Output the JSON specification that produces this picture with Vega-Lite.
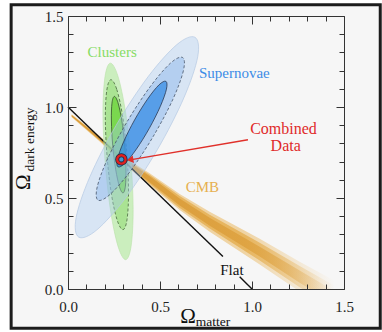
{
"$schema": "https://vega.github.io/schema/vega-lite/v6.json",
"width": 276, "height": 273,
"autosize": {"type": "none"},
"padding": {"left": 68, "top": 16, "right": 38, "bottom": 43},
"background": "#ffffff",
"datasets": {
 "frame": [{"x": -0.309, "x2": 1.697, "y": 1.562, "y2": -0.215}],
 "flat": [{"x": 0, "y": 1, "x2": 0.842, "y2": 0.179}, {"x": 0.933, "y": 0.067, "x2": 1, "y2": 0}],
 "cmb": [
  {"band":"faint","i":0,"x":0.020,"y":0.960},{"band":"faint","i":1,"x":0.172,"y":0.842},{"band":"faint","i":2,"x":0.297,"y":0.729},{"band":"faint","i":3,"x":0.444,"y":0.636},{"band":"faint","i":4,"x":0.607,"y":0.522},{"band":"faint","i":5,"x":0.770,"y":0.425},{"band":"faint","i":6,"x":1.042,"y":0.276},{"band":"faint","i":7,"x":1.259,"y":0.150},{"band":"faint","i":8,"x":1.449,"y":0.045},{"band":"faint","i":9,"x":1.449,"y":-0.141},{"band":"faint","i":10,"x":1.259,"y":-0.014},{"band":"faint","i":11,"x":1.042,"y":0.134},{"band":"faint","i":12,"x":0.770,"y":0.315},{"band":"faint","i":13,"x":0.607,"y":0.434},{"band":"faint","i":14,"x":0.444,"y":0.570},{"band":"faint","i":15,"x":0.297,"y":0.691},{"band":"faint","i":16,"x":0.172,"y":0.810},{"band":"faint","i":17,"x":0.020,"y":0.944},
  {"band":"mid","i":0,"x":0.020,"y":0.9575},{"band":"mid","i":1,"x":0.172,"y":0.837},{"band":"mid","i":2,"x":0.297,"y":0.724},{"band":"mid","i":3,"x":0.444,"y":0.628},{"band":"mid","i":4,"x":0.607,"y":0.511},{"band":"mid","i":5,"x":0.770,"y":0.408},{"band":"mid","i":6,"x":1.042,"y":0.254},{"band":"mid","i":7,"x":1.259,"y":0.126},{"band":"mid","i":8,"x":1.449,"y":0.018},{"band":"mid","i":9,"x":1.449,"y":-0.114},{"band":"mid","i":10,"x":1.259,"y":0.010},{"band":"mid","i":11,"x":1.042,"y":0.156},{"band":"mid","i":12,"x":0.770,"y":0.332},{"band":"mid","i":13,"x":0.607,"y":0.445},{"band":"mid","i":14,"x":0.444,"y":0.578},{"band":"mid","i":15,"x":0.297,"y":0.696},{"band":"mid","i":16,"x":0.172,"y":0.815},{"band":"mid","i":17,"x":0.020,"y":0.9465},
  {"band":"core","i":0,"x":0.020,"y":0.955},{"band":"core","i":1,"x":0.172,"y":0.833},{"band":"core","i":2,"x":0.297,"y":0.718},{"band":"core","i":3,"x":0.444,"y":0.619},{"band":"core","i":4,"x":0.607,"y":0.497},{"band":"core","i":5,"x":0.770,"y":0.392},{"band":"core","i":6,"x":1.042,"y":0.232},{"band":"core","i":7,"x":1.259,"y":0.101},{"band":"core","i":8,"x":1.449,"y":-0.012},{"band":"core","i":9,"x":1.449,"y":-0.084},{"band":"core","i":10,"x":1.259,"y":0.035},{"band":"core","i":11,"x":1.042,"y":0.178},{"band":"core","i":12,"x":0.770,"y":0.348},{"band":"core","i":13,"x":0.607,"y":0.459},{"band":"core","i":14,"x":0.444,"y":0.587},{"band":"core","i":15,"x":0.297,"y":0.702},{"band":"core","i":16,"x":0.172,"y":0.819},{"band":"core","i":17,"x":0.020,"y":0.949}
 ],
 "shapes": [
  {"shape":"sn1","i":0,"x":0.690,"y":1.383},{"shape":"sn1","i":1,"x":0.705,"y":1.276},{"shape":"sn1","i":2,"x":0.630,"y":1.051},{"shape":"sn1","i":3,"x":0.487,"y":0.768},{"shape":"sn1","i":4,"x":0.314,"y":0.502},{"shape":"sn1","i":5,"x":0.157,"y":0.325},{"shape":"sn1","i":6,"x":0.0585,"y":0.285},{"shape":"sn1","i":7,"x":0.044,"y":0.392},{"shape":"sn1","i":8,"x":0.119,"y":0.617},{"shape":"sn1","i":9,"x":0.262,"y":0.900},{"shape":"sn1","i":10,"x":0.435,"y":1.166},{"shape":"sn1","i":11,"x":0.592,"y":1.343},
  {"shape":"sn2","i":0,"x":0.623,"y":1.272},{"shape":"sn2","i":1,"x":0.627,"y":1.199},{"shape":"sn2","i":2,"x":0.569,"y":1.040},{"shape":"sn2","i":3,"x":0.463,"y":0.838},{"shape":"sn2","i":4,"x":0.339,"y":0.648},{"shape":"sn2","i":5,"x":0.229,"y":0.520},{"shape":"sn2","i":6,"x":0.163,"y":0.488},{"shape":"sn2","i":7,"x":0.159,"y":0.562},{"shape":"sn2","i":8,"x":0.217,"y":0.720},{"shape":"sn2","i":9,"x":0.323,"y":0.922},{"shape":"sn2","i":10,"x":0.447,"y":1.112},{"shape":"sn2","i":11,"x":0.557,"y":1.241},
  {"shape":"sn3","i":0,"x":0.532,"y":1.141},{"shape":"sn3","i":1,"x":0.535,"y":1.098},{"shape":"sn3","i":2,"x":0.502,"y":1.004},{"shape":"sn3","i":3,"x":0.442,"y":0.883},{"shape":"sn3","i":4,"x":0.372,"y":0.769},{"shape":"sn3","i":5,"x":0.310,"y":0.691},{"shape":"sn3","i":6,"x":0.272,"y":0.671},{"shape":"sn3","i":7,"x":0.269,"y":0.714},{"shape":"sn3","i":8,"x":0.302,"y":0.808},{"shape":"sn3","i":9,"x":0.362,"y":0.929},{"shape":"sn3","i":10,"x":0.432,"y":1.043},{"shape":"sn3","i":11,"x":0.494,"y":1.121},
  {"shape":"cl1","i":0,"x":0.230,"y":1.241},{"shape":"cl1","i":1,"x":0.271,"y":1.171},{"shape":"cl1","i":2,"x":0.312,"y":0.976},{"shape":"cl1","i":3,"x":0.342,"y":0.7065},{"shape":"cl1","i":4,"x":0.354,"y":0.436},{"shape":"cl1","i":5,"x":0.343,"y":0.236},{"shape":"cl1","i":6,"x":0.314,"y":0.161},{"shape":"cl1","i":7,"x":0.273,"y":0.231},{"shape":"cl1","i":8,"x":0.232,"y":0.426},{"shape":"cl1","i":9,"x":0.202,"y":0.6955},{"shape":"cl1","i":10,"x":0.190,"y":0.966},{"shape":"cl1","i":11,"x":0.201,"y":1.166},
  {"shape":"cl2","i":0,"x":0.233,"y":1.150},{"shape":"cl2","i":1,"x":0.265,"y":1.097},{"shape":"cl2","i":2,"x":0.297,"y":0.948},{"shape":"cl2","i":3,"x":0.320,"y":0.742},{"shape":"cl2","i":4,"x":0.329,"y":0.536},{"shape":"cl2","i":5,"x":0.321,"y":0.383},{"shape":"cl2","i":6,"x":0.299,"y":0.326},{"shape":"cl2","i":7,"x":0.267,"y":0.379},{"shape":"cl2","i":8,"x":0.235,"y":0.528},{"shape":"cl2","i":9,"x":0.212,"y":0.734},{"shape":"cl2","i":10,"x":0.203,"y":0.940},{"shape":"cl2","i":11,"x":0.211,"y":1.093},
  {"shape":"cl3","i":0,"x":0.252,"y":1.058},{"shape":"cl3","i":1,"x":0.2715,"y":1.024},{"shape":"cl3","i":2,"x":0.292,"y":0.928},{"shape":"cl3","i":3,"x":0.308,"y":0.796},{"shape":"cl3","i":4,"x":0.315,"y":0.663},{"shape":"cl3","i":5,"x":0.312,"y":0.565},{"shape":"cl3","i":6,"x":0.299,"y":0.528},{"shape":"cl3","i":7,"x":0.2795,"y":0.562},{"shape":"cl3","i":8,"x":0.259,"y":0.658},{"shape":"cl3","i":9,"x":0.243,"y":0.790},{"shape":"cl3","i":10,"x":0.236,"y":0.923},{"shape":"cl3","i":11,"x":0.239,"y":1.021}
 ],
 "arrow": [{"x": 0.978, "y": 0.820, "x2": 0.345, "y2": 0.7105}],
 "head": [{"x": 0.338, "y": 0.7098}],
 "combined": [{"x": 0.290, "y": 0.712}],
 "labels": [
  {"label": "Clusters", "x": 0.240, "y": 1.304},
  {"label": "Supernovae", "x": 0.904, "y": 1.187},
  {"label": "Combined", "x": 1.171, "y": 0.879},
  {"label": "Data", "x": 1.183, "y": 0.784},
  {"label": "CMB", "x": 0.730, "y": 0.560},
  {"label": "Flat", "x": 0.891, "y": 0.102}
 ],
 "titles": [
  {"label": "Ω", "part": "xsym", "x": 0.652, "y": -0.185},
  {"label": "matter", "part": "xsub", "x": 0.694, "y": -0.204},
  {"label": "Ω", "part": "ysym", "x": -0.208, "y": 0.587},
  {"label": "dark energy", "part": "ysub", "x": -0.184, "y": 0.646}
 ]
},
"encoding": {
 "x": {"field": "x", "type": "quantitative", "scale": {"domain": [0, 1.5], "nice": false, "zero": false}, "axis": null},
 "y": {"field": "y", "type": "quantitative", "scale": {"domain": [0, 1.5], "nice": false, "zero": false}, "axis": null}
},
"layer": [
 {"data": {"name": "frame"},
  "mark": {"type": "rect", "fill": "#f6f6f6", "stroke": "#1c1c1c", "strokeWidth": 3},
  "encoding": {
   "x": {"field": "x", "type": "quantitative", "scale": {"domain": [0, 1.5], "nice": false, "zero": false},
    "axis": {"orient": "bottom", "zindex": 2, "values": [0,0.1,0.2,0.3,0.4,0.5,0.6,0.7,0.8,0.9,1,1.1,1.2,1.3,1.4,1.5],
     "tickSize": {"condition": {"test": "datum.value % 0.5 === 0", "value": -8}, "value": -5},
     "labelExpr": "datum.value % 0.5 === 0 ? format(datum.value, '.1f') : ''",
     "labelPadding": 18, "labelOverlap": false, "labelFlush": false, "title": null, "domain": true, "grid": false}},
   "x2": {"field": "x2"},
   "y": {"field": "y", "type": "quantitative", "scale": {"domain": [0, 1.5], "nice": false, "zero": false},
    "axis": {"orient": "left", "zindex": 2, "values": [0,0.1,0.2,0.3,0.4,0.5,0.6,0.7,0.8,0.9,1,1.1,1.2,1.3,1.4,1.5],
     "tickSize": {"condition": {"test": "datum.value % 0.5 === 0", "value": -8}, "value": -5},
     "labelExpr": "datum.value % 0.5 === 0 ? format(datum.value, '.1f') : ''",
     "labelPadding": 13, "labelOverlap": false, "labelFlush": false, "title": null, "domain": true, "grid": false}},
   "y2": {"field": "y2"}
  }},
 {"data": {"name": "cmb"}, "transform": [{"filter": "datum.band === 'faint'"}],
  "mark": {"type": "line", "interpolate": "linear-closed", "clip": true, "stroke": "transparent",
   "fill": {"gradient": "linear", "x1": 0, "y1": 0, "x2": 1, "y2": 0, "stops": [{"offset": 0, "color": "rgba(238,206,150,0.85)"}, {"offset": 0.66, "color": "rgba(238,206,150,0.85)"}, {"offset": 1, "color": "rgba(238,206,150,0)"}]}},
  "encoding": {"order": {"field": "i", "type": "quantitative"}}},
 {"data": {"name": "cmb"}, "transform": [{"filter": "datum.band === 'mid'"}],
  "mark": {"type": "line", "interpolate": "linear-closed", "clip": true, "stroke": "transparent",
   "fill": {"gradient": "linear", "x1": 0, "y1": 0, "x2": 1, "y2": 0, "stops": [{"offset": 0, "color": "rgba(230,178,88,0.9)"}, {"offset": 0.66, "color": "rgba(230,178,88,0.9)"}, {"offset": 1, "color": "rgba(230,178,88,0)"}]}},
  "encoding": {"order": {"field": "i", "type": "quantitative"}}},
 {"data": {"name": "cmb"}, "transform": [{"filter": "datum.band === 'core'"}],
  "mark": {"type": "line", "interpolate": "linear-closed", "clip": true, "stroke": "transparent",
   "fill": {"gradient": "linear", "x1": 0, "y1": 0, "x2": 1, "y2": 0, "stops": [{"offset": 0, "color": "rgba(214,150,50,0.95)"}, {"offset": 0.66, "color": "rgba(222,162,64,0.9)"}, {"offset": 1, "color": "rgba(222,162,64,0)"}]}},
  "encoding": {"order": {"field": "i", "type": "quantitative"}}},
 {"data": {"name": "flat"},
  "mark": {"type": "rule", "color": "#111111", "strokeWidth": 1.4},
  "encoding": {
   "x": {"field": "x", "type": "quantitative", "scale": {"domain": [0, 1.5], "nice": false, "zero": false},
    "axis": {"orient": "top", "zindex": 2, "values": [0,0.1,0.2,0.3,0.4,0.5,0.6,0.7,0.8,0.9,1,1.1,1.2,1.3,1.4,1.5],
     "tickSize": {"condition": {"test": "datum.value % 0.5 === 0", "value": -8}, "value": -5},
     "labels": false, "title": null, "domain": true, "grid": false}},
   "x2": {"field": "x2"},
   "y": {"field": "y", "type": "quantitative", "scale": {"domain": [0, 1.5], "nice": false, "zero": false},
    "axis": {"orient": "right", "zindex": 2, "values": [0,0.1,0.2,0.3,0.4,0.5,0.6,0.7,0.8,0.9,1,1.1,1.2,1.3,1.4,1.5],
     "tickSize": {"condition": {"test": "datum.value % 0.5 === 0", "value": -8}, "value": -5},
     "labels": false, "title": null, "domain": true, "grid": false}},
   "y2": {"field": "y2"}
  }},
 {"data": {"name": "shapes"}, "transform": [{"filter": "datum.shape === 'cl1'"}],
  "mark": {"type": "line", "interpolate": "cardinal-closed", "fill": "#a8e890", "fillOpacity": 0.55, "stroke": "#b8e0a8", "strokeWidth": 0.6},
  "encoding": {"order": {"field": "i", "type": "quantitative"}}},
 {"data": {"name": "shapes"}, "transform": [{"filter": "datum.shape === 'cl2'"}],
  "mark": {"type": "line", "interpolate": "cardinal-closed", "fill": "#8ad868", "fillOpacity": 0.5, "stroke": "#4a6a40", "strokeWidth": 0.8, "strokeDash": [3, 2]},
  "encoding": {"order": {"field": "i", "type": "quantitative"}}},
 {"data": {"name": "shapes"}, "transform": [{"filter": "datum.shape === 'cl3'"}],
  "mark": {"type": "line", "interpolate": "cardinal-closed", "fill": "#5ad020", "fillOpacity": 0.6, "stroke": "#35502c", "strokeWidth": 0.8},
  "encoding": {"order": {"field": "i", "type": "quantitative"}}},
 {"data": {"name": "shapes"}, "transform": [{"filter": "datum.shape === 'sn1'"}],
  "mark": {"type": "line", "interpolate": "cardinal-closed", "fill": "#a9cbf3", "fillOpacity": 0.38, "stroke": "#b4c8e2", "strokeWidth": 0.7},
  "encoding": {"order": {"field": "i", "type": "quantitative"}}},
 {"data": {"name": "shapes"}, "transform": [{"filter": "datum.shape === 'sn2'"}],
  "mark": {"type": "line", "interpolate": "cardinal-closed", "fill": "#89b4ea", "fillOpacity": 0.45, "stroke": "#46556a", "strokeWidth": 0.8, "strokeDash": [3, 2]},
  "encoding": {"order": {"field": "i", "type": "quantitative"}}},
 {"data": {"name": "shapes"}, "transform": [{"filter": "datum.shape === 'sn3'"}],
  "mark": {"type": "line", "interpolate": "cardinal-closed", "fill": "#197de3", "fillOpacity": 0.6, "stroke": "#2a3a55", "strokeWidth": 0.8},
  "encoding": {"order": {"field": "i", "type": "quantitative"}}},
 {"data": {"name": "arrow"},
  "mark": {"type": "rule", "color": "#e0302a", "strokeWidth": 1.3},
  "encoding": {"x2": {"field": "x2"}, "y2": {"field": "y2"}}},
 {"data": {"name": "head"},
  "mark": {"type": "point", "shape": "triangle-left", "filled": true, "color": "#e0302a", "size": 55, "opacity": 1, "angle": 350},
  "encoding": {}},
 {"data": {"name": "combined"},
  "mark": {"type": "point", "filled": false, "stroke": "#1d2a44", "strokeWidth": 4, "size": 70, "opacity": 1},
  "encoding": {}},
 {"data": {"name": "combined"},
  "mark": {"type": "point", "filled": false, "stroke": "#e0201e", "strokeWidth": 2.4, "size": 70, "opacity": 1},
  "encoding": {}},
 {"data": {"name": "labels"}, "transform": [{"filter": "datum.label === 'Clusters'"}],
  "mark": {"type": "text", "font": "Liberation Serif", "fontSize": 15, "color": "#86dc64", "align": "center", "baseline": "middle"},
  "encoding": {"text": {"field": "label"}}},
 {"data": {"name": "labels"}, "transform": [{"filter": "datum.label === 'Supernovae'"}],
  "mark": {"type": "text", "font": "Liberation Serif", "fontSize": 15, "color": "#3c8ce6", "align": "center", "baseline": "middle"},
  "encoding": {"text": {"field": "label"}}},
 {"data": {"name": "labels"}, "transform": [{"filter": "datum.label === 'Combined' || datum.label === 'Data'"}],
  "mark": {"type": "text", "font": "Liberation Serif", "fontSize": 16, "color": "#e02a2a", "align": "center", "baseline": "middle"},
  "encoding": {"text": {"field": "label"}}},
 {"data": {"name": "labels"}, "transform": [{"filter": "datum.label === 'CMB'"}],
  "mark": {"type": "text", "font": "Liberation Serif", "fontSize": 15, "color": "#e6b050", "align": "center", "baseline": "middle"},
  "encoding": {"text": {"field": "label"}}},
 {"data": {"name": "labels"}, "transform": [{"filter": "datum.label === 'Flat'"}],
  "mark": {"type": "text", "font": "Liberation Serif", "fontSize": 15, "color": "#111111", "align": "center", "baseline": "middle"},
  "encoding": {"text": {"field": "label"}}},
 {"data": {"name": "titles"}, "transform": [{"filter": "datum.part === 'xsym'"}],
  "mark": {"type": "text", "font": "Liberation Serif", "fontSize": 21, "color": "#111111", "align": "center", "baseline": "alphabetic"},
  "encoding": {"text": {"field": "label"}}},
 {"data": {"name": "titles"}, "transform": [{"filter": "datum.part === 'xsub'"}],
  "mark": {"type": "text", "font": "Liberation Serif", "fontSize": 13.5, "color": "#111111", "align": "left", "baseline": "alphabetic"},
  "encoding": {"text": {"field": "label"}}},
 {"data": {"name": "titles"}, "transform": [{"filter": "datum.part === 'ysym'"}],
  "mark": {"type": "text", "font": "Liberation Serif", "fontSize": 21, "color": "#111111", "align": "center", "baseline": "alphabetic", "angle": 270},
  "encoding": {"text": {"field": "label"}}},
 {"data": {"name": "titles"}, "transform": [{"filter": "datum.part === 'ysub'"}],
  "mark": {"type": "text", "font": "Liberation Serif", "fontSize": 13.5, "color": "#111111", "align": "left", "baseline": "alphabetic", "angle": 270},
  "encoding": {"text": {"field": "label"}}}
],
"resolve": {"axis": {"x": "independent", "y": "independent"}},
"config": {
 "view": {"stroke": null},
 "axis": {"labelFont": "Liberation Serif", "labelFontSize": 15, "labelColor": "#222222", "tickColor": "#333333", "tickWidth": 1, "domainColor": "#333333", "domainWidth": 1}
}
}
